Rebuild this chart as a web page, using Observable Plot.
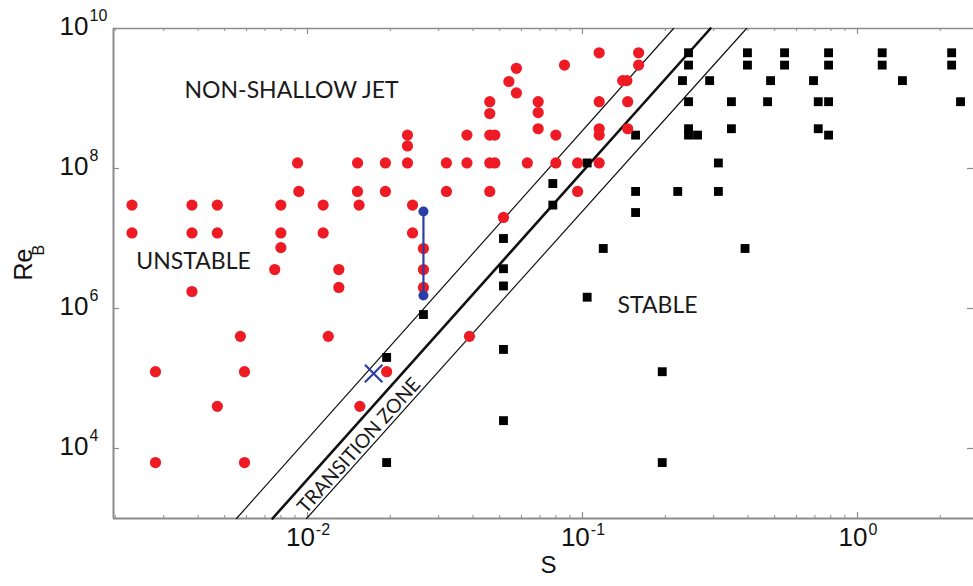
<!DOCTYPE html>
<html><head><meta charset="utf-8">
<script src="https://cdn.jsdelivr.net/npm/d3@7"></script>
<script src="https://cdn.jsdelivr.net/npm/@observablehq/plot@0.6"></script>
<style>body{margin:0;background:#fff;} svg{display:block}</style>
</head><body><div id="chart"></div>
<script>
// ---- data ----
const redS  = [0.0023,0.0023,0.0028,0.0028,0.0038,0.0038,0.0038,0.0047,0.0047,0.0047,0.0057,0.0059,0.0059,0.0080,0.0080,0.0080,0.0076,0.0092,0.0093,0.0114,0.0114,0.0119,0.0130,0.0130,0.0152,0.0152,0.0154,0.0155,0.0192,0.0192,0.0194,0.0231,0.0231,0.0231,0.0241,0.0241,0.0264,0.0264,0.0264,0.032,0.032,0.038,0.038,0.0388,0.046,0.046,0.046,0.048,0.046,0.048,0.046,0.0516,0.054,0.0575,0.0575,0.063,0.069,0.069,0.069,0.080,0.080,0.086,0.096,0.096,0.115,0.115,0.115,0.115,0.115,0.140,0.145,0.146,0.146,0.16,0.16];
const redRe = [3.0e7,1.2e7,1.25e5,6.3e3,3.0e7,1.2e7,1.75e6,3.0e7,1.2e7,4.0e4,4.0e5,1.25e5,6.3e3,3.0e7,1.2e7,7.4e6,3.6e6,1.2e8,4.7e7,3.0e7,1.2e7,4.0e5,3.6e6,2.0e6,1.2e8,4.7e7,3.0e7,4.0e4,1.2e8,4.7e7,1.25e5,3.0e8,2.1e8,1.2e8,3.0e7,1.2e7,7.2e6,3.6e6,2.0e6,1.2e8,4.7e7,3.0e8,1.2e8,4.0e5,9.0e8,6.1e8,3.0e8,3.0e8,1.2e8,1.2e8,4.7e7,2.0e7,1.75e9,2.7e9,1.2e9,1.2e8,9.0e8,6.3e8,3.7e8,3.0e8,1.2e8,3.0e9,1.2e8,4.7e7,4.5e9,9.0e8,3.7e8,3.0e8,1.2e8,1.8e9,1.8e9,9.0e8,3.7e8,4.5e9,3.0e9];

const blackS  = [0.156,0.104,0.078,0.078,0.156,0.156,0.0516,0.0516,0.0516,0.119,0.104,0.0264,0.0194,0.0516,0.0516,0.0194,0.243,0.243,0.398,0.398,0.543,0.543,0.785,0.785,1.23,1.23,2.2,2.2,0.231,0.29,0.483,0.692,1.457,0.243,0.348,0.471,0.72,0.785,2.37,0.243,0.243,0.262,0.348,0.72,0.785,0.312,0.222,0.312,0.39,0.195,0.195];
const blackRe = [3.0e8,1.2e8,6.1e7,3.0e7,4.7e7,2.35e7,1.0e7,3.7e6,2.1e6,7.2e6,1.45e6,8.2e5,2.0e5,2.6e5,2.5e4,6.3e3,4.5e9,3.0e9,4.5e9,3.0e9,4.5e9,3.0e9,4.5e9,3.0e9,4.5e9,3.0e9,4.5e9,3.0e9,1.8e9,1.8e9,1.8e9,1.8e9,1.8e9,9.0e8,9.0e8,9.0e8,9.0e8,9.0e8,9.0e8,3.7e8,3.0e8,3.0e8,3.7e8,3.7e8,3.0e8,1.2e8,4.7e7,4.7e7,7.2e6,1.25e5,6.3e3];

const blueRangeS  = [0.0264, 0.0264];
const blueRangeRe = [2.43e7, 1.53e6];
const blueCrossS  = [0.0174];
const blueCrossRe = [1.18e5];

// transition-zone boundary lines (S at Re = 1e3 and Re = 1e10)
const boundaryRe = [1e3, 1e10];
const upperS  = [0.00552, 0.2143];
const middleS = [0.00746, 0.2920];
const lowerS  = [0.00992, 0.3949];

const xTickExps = [-2, -1, 0];
const yTickExps = [4, 6, 8, 10];
const xMinorTicks = [];
for (const e of [-3, -2, -1, 0]) for (let m = 2; m <= 9; m++) { const v = m * 10 ** e; if (v > 0.00197 && v < 2.64) xMinorTicks.push(v); }

const regionLabels = [
  {text: "NON-SHALLOW JET", S: 0.00875, Re: 1.3e9},
  {text: "UNSTABLE", S: 0.00385, Re: 4.7e6},
  {text: "STABLE", S: 0.1874, Re: 1.1e6}
];
const zoneLabel = [{text: "TRANSITION ZONE", S: 0.0154, Re: 1.1e4}];

// ---- build ----
const red = redS.map((s, i) => ({S: s, Re: redRe[i]}));
const black = blackS.map((s, i) => ({S: s, Re: blackRe[i]}));
const blueRange = blueRangeS.map((s, i) => ({S: s, Re: blueRangeRe[i]}));
const blueCross = blueCrossS.map((s, i) => ({S: s, Re: blueCrossRe[i]}));
const mkLine = arr => boundaryRe.map((r, i) => ({S: arr[i], Re: r}));

const xDomain = [0.00197, 2.642];
const yDomain = [1e3, 1e10];
const axisFont = "Liberation Sans, Arial, Helvetica, sans-serif";
const labelFont = "Lato, 'Open Sans', sans-serif";
const frameColor = "#8c8c8c";
const baseW = 2 * 0.556 * 26;
const expWidth = s => [...s].reduce((w, c) => w + (c === "-" ? 0.333 : 0.556) * 16, 0);

const xTickLabelMarks = xTickExps.flatMap(e => {
  const s = String(e);
  const off = (baseW - expWidth(s)) / 2;
  return [
    Plot.text([10 ** e], {x: d => d, frameAnchor: "bottom", text: () => "10", textAnchor: "end", dx: off, dy: 27, fontSize: 26, fontFamily: axisFont, fill: "#111"}),
    Plot.text([10 ** e], {x: d => d, frameAnchor: "bottom", text: () => s, textAnchor: "start", dx: off + 1, dy: 16, fontSize: 16, fontFamily: axisFont, fill: "#111"})
  ];
});

const chart = Plot.plot({
  width: 973, height: 586,
  marginLeft: 113, marginRight: 0, marginTop: 28, marginBottom: 68,
  x: {type: "log", domain: xDomain, axis: null},
  y: {type: "log", domain: yDomain, axis: null},
  style: {background: "white"},
  marks: [
    // frame (left, top, bottom)
    Plot.ruleX([xDomain[0]], {stroke: frameColor, strokeWidth: 2}),
    Plot.ruleY([yDomain[0]], {stroke: frameColor, strokeWidth: 2}),
    Plot.ruleY([yDomain[1]], {stroke: frameColor, strokeWidth: 1.5}),
    // inward ticks
    Plot.tickX(xTickExps.map(e => 10 ** e), {x: d => d, insetTop: 484, stroke: frameColor, strokeWidth: 1.2}),
    Plot.tickX(xTickExps.map(e => 10 ** e), {x: d => d, insetBottom: 484, stroke: frameColor, strokeWidth: 1.2}),
    Plot.tickX(xMinorTicks, {x: d => d, insetTop: 487, stroke: frameColor, strokeWidth: 1}),
    Plot.tickX(xMinorTicks, {x: d => d, insetBottom: 487, stroke: frameColor, strokeWidth: 1}),
    Plot.tickY(yTickExps.slice(0, 3).map(e => 10 ** e), {y: d => d, insetRight: 854, stroke: frameColor, strokeWidth: 1.2}),
    Plot.tickY(yTickExps.slice(0, 3).map(e => 10 ** e), {y: d => d, insetLeft: 854, stroke: frameColor, strokeWidth: 1.2}),
    // transition zone lines
    Plot.line(mkLine(upperS), {x: "S", y: "Re", stroke: "#111", strokeWidth: 1.2}),
    Plot.line(mkLine(middleS), {x: "S", y: "Re", stroke: "#111", strokeWidth: 2.6}),
    Plot.line(mkLine(lowerS), {x: "S", y: "Re", stroke: "#111", strokeWidth: 1.2}),
    // data
    Plot.dot(black, {x: "S", y: "Re", symbol: "square", r: 5, fill: "#000", stroke: null}),
    Plot.dot(red, {x: "S", y: "Re", r: 5.6, fill: "#ee1b24", stroke: null}),
    Plot.line(blueRange, {x: "S", y: "Re", stroke: "#2b3da6", strokeWidth: 2.2}),
    Plot.dot(blueRange, {x: "S", y: "Re", r: 5, fill: "#2b3da6", stroke: null}),
    Plot.dot(blueCross, {x: "S", y: "Re", symbol: "times", r: 8, stroke: "#2b3da6", strokeWidth: 2.2}),
    // region labels
    Plot.text(regionLabels, {x: "S", y: "Re", text: "text", fontSize: 23, fontFamily: labelFont, fill: "#1a1a1a"}),
    Plot.text(zoneLabel, {x: "S", y: "Re", text: "text", rotate: -48.2, fontSize: 19.5, fontFamily: labelFont, fill: "#1a1a1a"}),
    // y tick labels
    Plot.text(yTickExps, {y: e => 10 ** e, frameAnchor: "left", text: () => "10", textAnchor: "end", dx: -25, dy: -2, fontSize: 26, fontFamily: axisFont, fill: "#111"}),
    Plot.text(yTickExps, {y: e => 10 ** e, frameAnchor: "left", text: e => String(e), textAnchor: "start", dx: -24, dy: -13, fontSize: 16, fontFamily: axisFont, fill: "#111"}),
    // x tick labels
    ...xTickLabelMarks,
    // axis titles
    Plot.text(["S"], {frameAnchor: "bottom", text: d => d, dx: 5, dy: 54, fontSize: 24, fontFamily: axisFont, fill: "#111"}),
    Plot.text(["Re"], {frameAnchor: "left", text: d => d, rotate: -90, dx: -90, dy: 7, fontSize: 25, fontFamily: axisFont, fill: "#111"}),
    Plot.text(["B"], {frameAnchor: "left", text: d => d, rotate: -90, dx: -75, dy: -18, fontSize: 16, fontFamily: axisFont, fill: "#111"})
  ]
});
document.getElementById("chart").appendChild(chart);
</script>
</body></html>
